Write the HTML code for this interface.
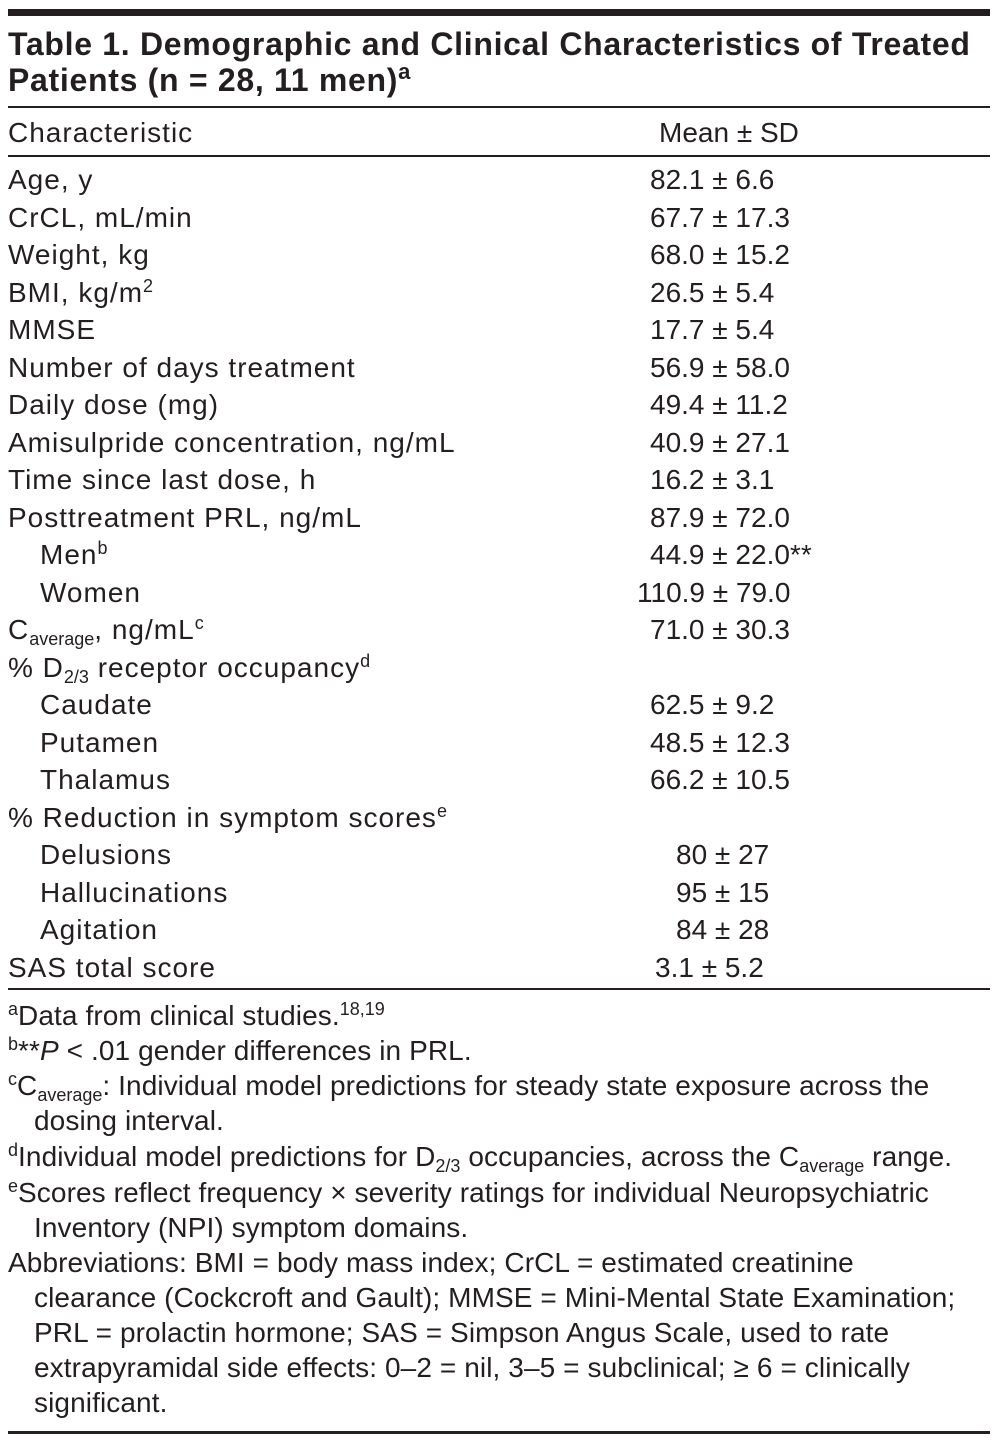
<!DOCTYPE html>
<html><head><meta charset="utf-8"><style>
body{margin:0;width:998px;height:1440px;background:#fff;position:relative;overflow:hidden;font-family:"Liberation Sans",sans-serif;color:#231f20}
.r{position:absolute;white-space:nowrap;font-size:28px;line-height:30px;letter-spacing:1px}
.v{letter-spacing:0}
.f{letter-spacing:0.1px}
.t{font-weight:bold;font-size:32px;line-height:34px;letter-spacing:0.7px}
.h{position:absolute;left:8px;width:982px;background:#231f20}
sup{font-size:18px;vertical-align:10px;line-height:0;letter-spacing:0}
.t sup{font-size:22px;vertical-align:12px}
sub{font-size:18px;vertical-align:-6px;line-height:0;letter-spacing:0}
</style></head><body>
<div class="h" style="top:9px;height:7px"></div>
<div class="r t" style="left:8px;top:27px">Table 1. Demographic and Clinical Characteristics of Treated</div>
<div class="r t" style="left:8px;top:63px">Patients (n = 28, 11 men)<sup>a</sup></div>
<div class="h" style="top:106px;height:2px"></div>
<div class="r" style="left:8px;top:118px">Characteristic</div>
<div class="r v" style="left:659px;top:118px">Mean ± SD</div>
<div class="h" style="top:155px;height:2px"></div>

<div class="r" style="left:8px;top:165px">Age, y</div><div class="r v" style="left:650px;top:165px">82.1 ± 6.6</div>
<div class="r" style="left:8px;top:202.5px">CrCL, mL/min</div><div class="r v" style="left:650px;top:202.5px">67.7 ± 17.3</div>
<div class="r" style="left:8px;top:240px">Weight, kg</div><div class="r v" style="left:650px;top:240px">68.0 ± 15.2</div>
<div class="r" style="left:8px;top:277.5px">BMI, kg/m<sup>2</sup></div><div class="r v" style="left:650px;top:277.5px">26.5 ± 5.4</div>
<div class="r" style="left:8px;top:315px">MMSE</div><div class="r v" style="left:650px;top:315px">17.7 ± 5.4</div>
<div class="r" style="left:8px;top:352.5px">Number of days treatment</div><div class="r v" style="left:650px;top:352.5px">56.9 ± 58.0</div>
<div class="r" style="left:8px;top:390px">Daily dose (mg)</div><div class="r v" style="left:650px;top:390px">49.4 ± 11.2</div>
<div class="r" style="left:8px;top:427.5px">Amisulpride concentration, ng/mL</div><div class="r v" style="left:650px;top:427.5px">40.9 ± 27.1</div>
<div class="r" style="left:8px;top:465px">Time since last dose, h</div><div class="r v" style="left:650px;top:465px">16.2 ± 3.1</div>
<div class="r" style="left:8px;top:502.5px">Posttreatment PRL, ng/mL</div><div class="r v" style="left:650px;top:502.5px">87.9 ± 72.0</div>
<div class="r" style="left:40px;top:540px">Men<sup>b</sup></div><div class="r v" style="left:650px;top:540px">44.9 ± 22.0**</div>
<div class="r" style="left:40px;top:577.5px">Women</div><div class="r v" style="left:637px;top:577.5px">110.9 ± 79.0</div>
<div class="r" style="left:8px;top:615px">C<sub>average</sub>, ng/mL<sup>c</sup></div><div class="r v" style="left:650px;top:615px">71.0 ± 30.3</div>
<div class="r" style="left:8px;top:652.5px">% D<sub>2/3</sub> receptor occupancy<sup>d</sup></div>
<div class="r" style="left:40px;top:690px">Caudate</div><div class="r v" style="left:650px;top:690px">62.5 ± 9.2</div>
<div class="r" style="left:40px;top:727.5px">Putamen</div><div class="r v" style="left:650px;top:727.5px">48.5 ± 12.3</div>
<div class="r" style="left:40px;top:765px">Thalamus</div><div class="r v" style="left:650px;top:765px">66.2 ± 10.5</div>
<div class="r" style="left:8px;top:802.5px">% Reduction in symptom scores<sup>e</sup></div>
<div class="r" style="left:40px;top:840px">Delusions</div><div class="r v" style="left:676px;top:840px">80 ± 27</div>
<div class="r" style="left:40px;top:877.5px">Hallucinations</div><div class="r v" style="left:676px;top:877.5px">95 ± 15</div>
<div class="r" style="left:40px;top:915px">Agitation</div><div class="r v" style="left:676px;top:915px">84 ± 28</div>
<div class="r" style="left:8px;top:952.5px">SAS total score</div><div class="r v" style="left:655px;top:952.5px">3.1 ± 5.2</div>
<div class="h" style="top:988px;height:2px"></div>

<div class="r f" style="left:8px;top:1001px"><sup>a</sup>Data from clinical studies.<sup>18,19</sup></div>
<div class="r f" style="left:8px;top:1036px"><sup>b</sup>**<i>P</i> &lt; .01 gender differences in PRL.</div>
<div class="r f" style="left:8px;top:1071px"><sup>c</sup>C<sub>average</sub>: Individual model predictions for steady state exposure across the</div>
<div class="r f" style="left:34px;top:1106px">dosing interval.</div>
<div class="r f" style="left:8px;top:1142px"><sup>d</sup>Individual model predictions for D<sub>2/3</sub> occupancies, across the C<sub>average</sub> range.</div>
<div class="r f" style="left:8px;top:1178px"><sup>e</sup>Scores reflect frequency × severity ratings for individual Neuropsychiatric</div>
<div class="r f" style="left:34px;top:1213px">Inventory (NPI) symptom domains.</div>
<div class="r f" style="left:8px;top:1248px">Abbreviations: BMI = body mass index; CrCL = estimated creatinine</div>
<div class="r f" style="left:34px;top:1283px">clearance (Cockcroft and Gault); MMSE = Mini-Mental State Examination;</div>
<div class="r f" style="left:34px;top:1318px">PRL = prolactin hormone; SAS = Simpson Angus Scale, used to rate</div>
<div class="r f" style="left:34px;top:1353px">extrapyramidal side effects: 0–2 = nil, 3–5 = subclinical; ≥ 6 = clinically</div>
<div class="r f" style="left:34px;top:1388px">significant.</div>
<div class="h" style="top:1431px;height:3px"></div>
</body></html>
